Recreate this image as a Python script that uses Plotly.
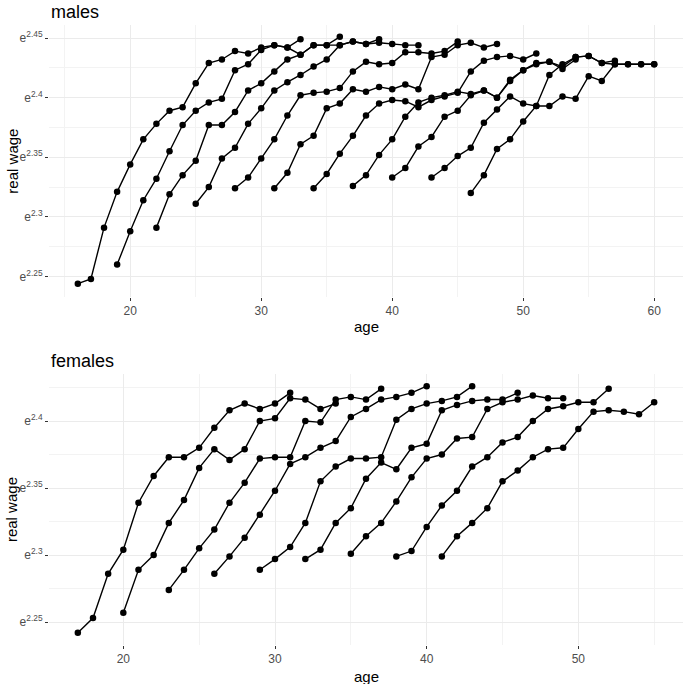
import plotly.graph_objects as go

# ── Males: log real wage by cohort (first age, then one value per year) ──────
male_starts = [16, 19, 22, 25, 28, 31, 34, 37, 40, 43, 46]
m16 = [2.244, 2.248, 2.291, 2.321, 2.344, 2.365, 2.378, 2.389, 2.392, 2.412, 2.429, 2.432, 2.439, 2.437, 2.442, 2.444, 2.442, 2.449]
m19 = [2.260, 2.288, 2.314, 2.332, 2.355, 2.377, 2.389, 2.396, 2.399, 2.423, 2.428, 2.440, 2.444, 2.442, 2.436, 2.444, 2.444, 2.451]
m22 = [2.291, 2.319, 2.335, 2.347, 2.377, 2.377, 2.388, 2.406, 2.412, 2.422, 2.432, 2.436, 2.444, 2.444, 2.444, 2.447, 2.445, 2.449]
m25 = [2.311, 2.325, 2.349, 2.358, 2.378, 2.391, 2.406, 2.413, 2.419, 2.426, 2.432, 2.444, 2.447, 2.445, 2.446, 2.445, 2.444, 2.444]
m28 = [2.324, 2.333, 2.349, 2.365, 2.385, 2.402, 2.404, 2.405, 2.408, 2.422, 2.430, 2.428, 2.429, 2.438, 2.438, 2.437, 2.439, 2.447]
m31 = [2.324, 2.337, 2.361, 2.368, 2.391, 2.395, 2.407, 2.405, 2.409, 2.407, 2.411, 2.407, 2.434, 2.436, 2.444, 2.446, 2.442, 2.445]
m34 = [2.324, 2.336, 2.353, 2.368, 2.385, 2.395, 2.398, 2.397, 2.392, 2.398, 2.401, 2.404, 2.422, 2.431, 2.434, 2.435, 2.432, 2.437]
m37 = [2.326, 2.335, 2.352, 2.365, 2.384, 2.396, 2.400, 2.402, 2.405, 2.403, 2.406, 2.400, 2.414, 2.423, 2.428, 2.430, 2.424, 2.432]
m40 = [2.333, 2.341, 2.359, 2.367, 2.384, 2.389, 2.402, 2.406, 2.400, 2.415, 2.423, 2.429, 2.430, 2.426, 2.434, 2.435, 2.429, 2.431]
m43 = [2.333, 2.341, 2.351, 2.358, 2.379, 2.390, 2.401, 2.395, 2.393, 2.393, 2.401, 2.399, 2.418, 2.414, 2.428, 2.428, 2.428, 2.428]
m46 = [2.320, 2.335, 2.357, 2.365, 2.380, 2.393, 2.419, 2.428, 2.434, 2.435, 2.429, 2.428, 2.428, 2.428, 2.428]
male_series = [m16, m19, m22, m25, m28, m31, m34, m37, m40, m43, m46]

# ── Females ──────────────────────────────────────────────────────────────────
female_starts = [17, 20, 23, 26, 29, 32, 35, 38, 41]
f17 = [2.242, 2.253, 2.286, 2.304, 2.339, 2.359, 2.373, 2.373, 2.380, 2.395, 2.408, 2.413, 2.409, 2.413, 2.421]
f20 = [2.257, 2.289, 2.300, 2.324, 2.341, 2.365, 2.379, 2.371, 2.379, 2.400, 2.402, 2.417, 2.416, 2.409, 2.413]
f23 = [2.274, 2.289, 2.305, 2.319, 2.339, 2.354, 2.372, 2.373, 2.373, 2.400, 2.399, 2.416, 2.418, 2.416, 2.424]
f26 = [2.286, 2.299, 2.313, 2.330, 2.348, 2.368, 2.373, 2.380, 2.385, 2.403, 2.409, 2.416, 2.418, 2.421, 2.426]
f29 = [2.289, 2.297, 2.306, 2.324, 2.355, 2.366, 2.372, 2.372, 2.373, 2.401, 2.409, 2.413, 2.415, 2.418, 2.426]
f32 = [2.297, 2.304, 2.324, 2.335, 2.357, 2.369, 2.364, 2.380, 2.383, 2.408, 2.412, 2.415, 2.416, 2.416, 2.421]
f35 = [2.301, 2.314, 2.324, 2.340, 2.358, 2.372, 2.375, 2.387, 2.388, 2.409, 2.414, 2.416, 2.419, 2.417, 2.417]
f38 = [2.299, 2.303, 2.321, 2.337, 2.348, 2.366, 2.373, 2.384, 2.388, 2.400, 2.409, 2.411, 2.414, 2.414, 2.424]
f41 = [2.299, 2.314, 2.324, 2.335, 2.355, 2.363, 2.373, 2.379, 2.380, 2.394, 2.407, 2.408, 2.407, 2.405, 2.414]
female_series = [f17, f20, f23, f26, f29, f32, f35, f38, f41]

y_ticks = [2.25, 2.3, 2.35, 2.4, 2.45]
y_minor = [2.275, 2.325, 2.375, 2.425]

FONT = "Liberation Sans, Arial, sans-serif"
GRID = "#ebebeb"
TICK_TEXT = "#4d4d4d"

fig = go.Figure()

for start, vals in zip(male_starts, male_series):
    fig.add_trace(go.Scatter(
        x=list(range(start, start + len(vals))), y=vals,
        mode="lines+markers", xaxis="x", yaxis="y",
        line=dict(color="black", width=1.4),
        marker=dict(color="black", size=6.5),
        showlegend=False, hoverinfo="x+y",
    ))

for start, vals in zip(female_starts, female_series):
    fig.add_trace(go.Scatter(
        x=list(range(start, start + len(vals))), y=vals,
        mode="lines+markers", xaxis="x2", yaxis="y2",
        line=dict(color="black", width=1.4),
        marker=dict(color="black", size=6.5),
        showlegend=False, hoverinfo="x+y",
    ))


def x_axis(rng, ticks, minor, anchor):
    return dict(
        range=rng, anchor=anchor, domain=[0, 1], automargin=False,
        tickvals=ticks, ticktext=[str(t) for t in ticks],
        ticks="outside", ticklen=3, tickcolor="#333333", tickwidth=1,
        tickfont=dict(size=12, color=TICK_TEXT, family=FONT),
        showgrid=True, gridcolor=GRID, gridwidth=1.1,
        minor=dict(tickvals=minor, showgrid=True, gridcolor="#f3f3f3", gridwidth=0.8, ticks=""),
        zeroline=False, showline=False,
    )


def y_axis(rng, domain, anchor):
    return dict(
        range=rng, anchor=anchor, domain=domain, automargin=False,
        tickvals=y_ticks, ticktext=[f"e<sup>{t:g}</sup>" for t in y_ticks],
        ticks="outside", ticklen=3, tickcolor="#333333", tickwidth=1,
        tickfont=dict(size=12, color=TICK_TEXT, family=FONT),
        showgrid=True, gridcolor=GRID, gridwidth=1.1,
        minor=dict(tickvals=y_minor, showgrid=True, gridcolor="#f3f3f3", gridwidth=0.8, ticks=""),
        zeroline=False, showline=False,
    )


annotations = []
for text, y in [("males", 1.021), ("females", 0.458)]:
    annotations.append(dict(text=text, x=0, y=y, xref="paper", yref="paper",
                            xanchor="left", yanchor="middle", showarrow=False,
                            font=dict(size=18, color="black", family=FONT)))
for y in [0.513, -0.05]:
    annotations.append(dict(text="age", x=0.5, y=y, xref="paper", yref="paper",
                            xanchor="center", yanchor="middle", showarrow=False,
                            font=dict(size=15, color="black", family=FONT)))
for y in [0.78, 0.218]:
    annotations.append(dict(text="real wage", x=-0.058, y=y, xref="paper", yref="paper",
                            xanchor="center", yanchor="middle", showarrow=False, textangle=-90,
                            font=dict(size=15, color="black", family=FONT)))

fig.update_layout(
    width=685, height=684,
    margin=dict(l=49, r=2, t=25, b=39, autoexpand=False),
    plot_bgcolor="white", paper_bgcolor="white",
    xaxis=x_axis([13.8, 62.2], [20, 30, 40, 50, 60], [15, 25, 35, 45, 55], "y"),
    yaxis=y_axis([2.2332, 2.4609], [0.562, 1.0], "x"),
    xaxis2=x_axis([15.1, 56.9], [20, 30, 40, 50], [25, 35, 45, 55], "y2"),
    yaxis2=y_axis([2.2329, 2.4348], [0.0, 0.4365], "x2"),
    annotations=annotations,
    font=dict(family=FONT),
)

# page body has a default 8px margin; drop it so the figure sits at the corner
fig.write_html("out.html", config={"displayModeBar": False},
               post_script="document.body.style.margin='0';")
